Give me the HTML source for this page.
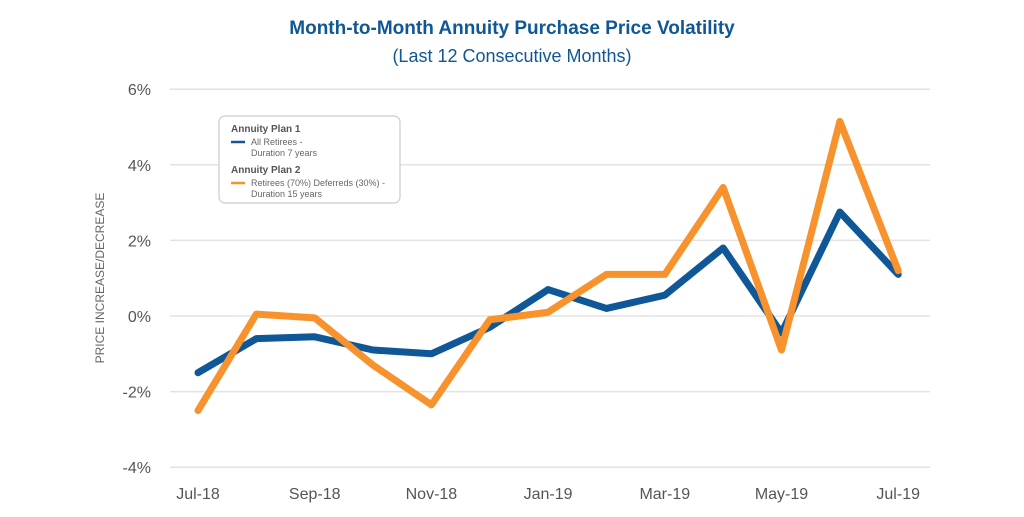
<!DOCTYPE html>
<html><head><meta charset="utf-8">
<style>
body{margin:0;background:#fff;}
svg text{font-family:"Liberation Sans",sans-serif;}
</style></head>
<body>
<svg id="chart" width="1024" height="512" viewBox="0 0 1024 512" xmlns="http://www.w3.org/2000/svg">
<text x="512" y="34" text-anchor="middle" font-size="19" font-weight="bold" fill="#0f5796">Month-to-Month Annuity Purchase Price Volatility</text>
<text x="512" y="62" text-anchor="middle" font-size="18" fill="#0f5796">(Last 12 Consecutive Months)</text>
<g id="grid"></g>
<g id="yticks"></g>
<g id="xticks"></g>
<text transform="translate(104,278) rotate(-90)" text-anchor="middle" font-size="12" fill="#666">PRICE INCREASE/DECREASE</text>
<g id="series"></g>
<g>
<rect x="219" y="116" width="181" height="87" rx="6" fill="#fff" stroke="#ccc" stroke-width="1.2"/>
<text x="231" y="132" font-size="10" font-weight="bold" fill="#555">Annuity Plan 1</text>
<line x1="231" y1="142" x2="245" y2="142" stroke="#0f5796" stroke-width="2.5"/>
<text x="251" y="145" font-size="9" fill="#666">All Retirees -</text>
<text x="251" y="156" font-size="9" fill="#666">Duration 7 years</text>
<text x="231" y="173" font-size="10" font-weight="bold" fill="#555">Annuity Plan 2</text>
<line x1="231" y1="183" x2="245" y2="183" stroke="#f7922d" stroke-width="2.5"/>
<text x="251" y="186" font-size="9" fill="#666">Retirees (70%) Deferreds (30%) -</text>
<text x="251" y="197" font-size="9" fill="#666">Duration 15 years</text>
</g>
</svg>
<script>
const months = ["Jul-18","Aug-18","Sep-18","Oct-18","Nov-18","Dec-18","Jan-19","Feb-19","Mar-19","Apr-19","May-19","Jun-19","Jul-19"];
const plan1 = [-1.5,-0.6,-0.55,-0.9,-1.0,-0.3,0.7,0.2,0.55,1.8,-0.45,2.75,1.1];
const plan2 = [-2.5,0.05,-0.05,-1.3,-2.35,-0.1,0.1,1.1,1.1,3.4,-0.9,5.15,1.2];
const yTicks = [6,4,2,0,-2,-4];
const yTickLabels = ["6%","4%","2%","0%","-2%","-4%"];
const xLabelIdx = [0,2,4,6,8,10,12];
const NS="http://www.w3.org/2000/svg";
const x = i => 198 + i*58.35;
const y = v => 316 - v*37.8;
function mk(tag, attrs, parent){const e=document.createElementNS(NS,tag);for(const k in attrs)e.setAttribute(k,attrs[k]);parent.appendChild(e);return e;}
const grid=document.getElementById('grid'), yt=document.getElementById('yticks'), xt=document.getElementById('xticks'), ser=document.getElementById('series');
yTicks.forEach((t,i)=>{
  const l=mk('line',{x1:170,x2:930,y1:y(t),y2:y(t),stroke:'#e3e3e3','stroke-width':1.5},grid);
  
  
  const tx=mk('text',{x:151,y:y(t)+6,'text-anchor':'end','font-size':16,fill:'#555'},yt);
  tx.textContent=yTickLabels[i];
  
  
});
xLabelIdx.forEach(i=>{
  const tx=mk('text',{x:x(i),y:499,'text-anchor':'middle','font-size':16,fill:'#555'},xt);
  tx.textContent=months[i];
  
  
});
function line(vals,color,name){
  const p=mk('polyline',{points:vals.map((v,i)=>x(i)+','+y(v)).join(' '),fill:'none',stroke:color,'stroke-width':7,'stroke-linejoin':'round','stroke-linecap':'round'},ser);
  
  
}
line(plan1,'#0f5796','plan1-line');
line(plan2,'#f7922d','plan2-line');
</script>
</body></html>
